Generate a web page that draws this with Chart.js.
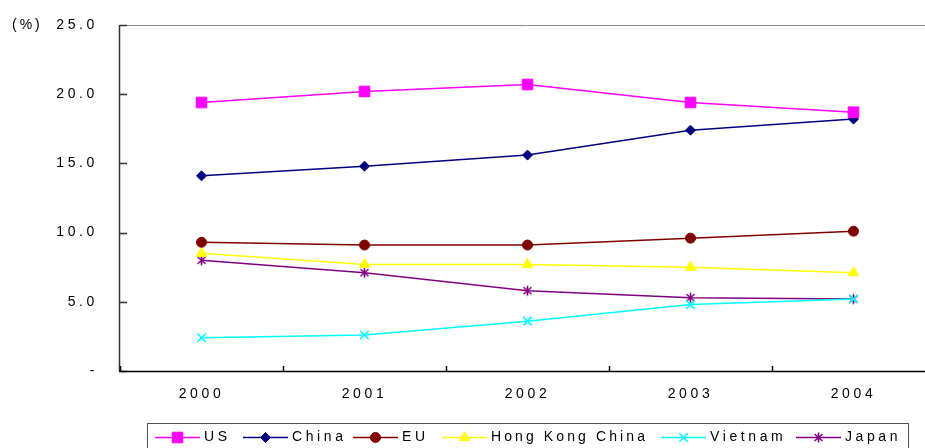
<!DOCTYPE html>
<html>
<head>
<meta charset="utf-8">
<script src="https://cdn.jsdelivr.net/npm/chart.js@4/dist/chart.umd.min.js"></script>
<style>
  html, body { margin: 0; padding: 0; background: #fff; overflow: hidden; }
  #wrap { width: 960px; height: 448px; }
</style>
</head>
<body>
<div id="wrap"><canvas id="c" width="960" height="448"></canvas></div>
<script>
// Share by partner (%), 2000-2004
const years    = ['2000', '2001', '2002', '2003', '2004'];
const us       = [19.4, 20.2, 20.7, 19.4, 18.7];
const china    = [14.1, 14.8, 15.6, 17.4, 18.2];
const eu       = [9.3, 9.1, 9.1, 9.6, 10.1];
const hongKong = [8.5, 7.7, 7.7, 7.5, 7.1];
const vietnam  = [2.4, 2.6, 3.6, 4.8, 5.2];
const japan    = [8.0, 7.1, 5.8, 5.3, 5.2];
const yTicks   = [0, 5, 10, 15, 20, 25];
const unitLabel = '(%)';

const FONT = '"Liberation Sans", Arial, sans-serif';

// asterisk marker: an X with a vertical stroke through it
function asteriskMarker(color) {
  const c = document.createElement('canvas');
  c.width = 13; c.height = 13;
  const g = c.getContext('2d');
  g.strokeStyle = color;
  g.lineWidth = 1.6;
  g.beginPath();
  g.moveTo(2.5, 3); g.lineTo(10.5, 10);
  g.moveTo(10.5, 3); g.lineTo(2.5, 10);
  g.moveTo(6.5, 1.5); g.lineTo(6.5, 11.5);
  g.stroke();
  return c;
}

function series(label, data, color, style, radius) {
  return {
    label, data,
    borderColor: color,
    backgroundColor: color,
    borderWidth: 1.5,
    tension: 0,
    pointStyle: style,
    pointRadius: radius,
    pointBackgroundColor: color,
    pointBorderColor: color,
    pointBorderWidth: style === 'crossRot' ? 1.6 : 1,
  };
}

const datasets = [
  series('US', us, '#FF00FF', 'rect', 7.5),
  series('China', china, '#000080', 'rectRot', 5),
  series('EU', eu, '#800000', 'circle', 5),
  series('Hong Kong China', hongKong, '#FFFF00', 'triangle', 6),
  series('Vietnam', vietnam, '#00FFFF', 'crossRot', 6),
  series('Japan', japan, '#800080', asteriskMarker('#800080'), 6),
];

// axis lines with inward tick marks, plus the unit label
const framePlugin = {
  id: 'frame',
  beforeDraw(chart) {
    chart.ctx.letterSpacing = '3.6px';
  },
  beforeDatasetsDraw(chart) {
    const { ctx, chartArea: a, scales } = chart;
    ctx.save();
    // top border
    ctx.strokeStyle = '#8a8a8a';
    ctx.lineWidth = 1;
    ctx.beginPath();
    ctx.moveTo(a.left, a.top + 0.5); ctx.lineTo(a.right, a.top + 0.5);
    ctx.stroke();
    // y axis and its ticks
    ctx.strokeStyle = '#333';
    ctx.lineWidth = 1.5;
    ctx.beginPath();
    ctx.moveTo(a.left - 0.5, a.top); ctx.lineTo(a.left - 0.5, a.bottom);
    yTicks.forEach(v => {
      const y = Math.round(scales.y.getPixelForValue(v)) + 0.5;
      ctx.moveTo(a.left, y); ctx.lineTo(a.left + 7, y);
    });
    ctx.stroke();
    // x axis and category boundary ticks
    ctx.strokeStyle = '#000';
    ctx.beginPath();
    ctx.moveTo(a.left - 1, a.bottom + 0.5); ctx.lineTo(a.right, a.bottom + 0.5);
    const n = years.length;
    for (let i = 0; i <= n; i++) {
      const x = Math.round(a.left + (a.right - a.left) * i / n) + 0.5;
      ctx.moveTo(x, a.bottom); ctx.lineTo(x, a.bottom - 5);
    }
    ctx.stroke();
    // unit label
    ctx.fillStyle = '#000';
    ctx.font = '14px ' + FONT;
    ctx.letterSpacing = '3px';
    ctx.textAlign = 'left';
    ctx.textBaseline = 'middle';
    ctx.fillText(unitLabel, 12, a.top);
    ctx.restore();
  }
};

// boxed legend: line segment with marker, then the series name
const legendPlugin = {
  id: 'boxLegend',
  afterDraw(chart) {
    const ctx = chart.ctx;
    const slots = [155, 243, 353, 442, 661, 796];
    const cy = 437;
    ctx.save();
    ctx.strokeStyle = '#555';
    ctx.lineWidth = 1;
    ctx.strokeRect(147.5, 423.5, 761, 40);
    chart.data.datasets.forEach((ds, i) => {
      const x0 = slots[i];
      ctx.strokeStyle = ds.borderColor;
      ctx.fillStyle = ds.borderColor;
      ctx.lineWidth = 1.5;
      ctx.beginPath();
      ctx.moveTo(x0, cy + 0.5); ctx.lineTo(x0 + 45, cy + 0.5);
      ctx.stroke();
      ctx.lineWidth = ds.pointBorderWidth;
      Chart.helpers.drawPoint(ctx, {
        pointStyle: ds.pointStyle, radius: ds.pointRadius,
        rotation: 0, borderWidth: ds.pointBorderWidth
      }, x0 + 22.5, cy + 0.5);
      ctx.fillStyle = '#000';
      ctx.font = '14px ' + FONT;
      ctx.letterSpacing = ds.label.includes(' ') ? '3.1px' : '3.6px';
      ctx.textAlign = 'left';
      ctx.textBaseline = 'middle';
      ctx.fillText(ds.label, x0 + 49, cy);
    });
    ctx.restore();
  }
};

new Chart(document.getElementById('c'), {
  type: 'line',
  data: { labels: years, datasets },
  options: {
    responsive: false,
    animation: false,
    events: [],
    layout: { padding: { top: 25, right: 25, bottom: 0, left: 0 } },
    plugins: { legend: { display: false }, tooltip: { enabled: false } },
    scales: {
      x: {
        offset: true,
        grid: { display: false, drawTicks: false },
        border: { display: false },
        ticks: { color: '#000', font: { family: FONT, size: 14 }, padding: 15, maxRotation: 0 },
        afterFit(s) { s.height = 77; }
      },
      y: {
        min: 0, max: 25,
        // invisible tick marks keep the labels clear of the axis line
        grid: { display: true, drawOnChartArea: false, drawTicks: true, tickLength: 22, tickColor: 'rgba(0,0,0,0)' },
        border: { display: false },
        afterBuildTicks(s) { s.ticks = yTicks.map(v => ({ value: v })); },
        ticks: {
          color: '#000', font: { family: FONT, size: 14 }, padding: 0,
          callback: v => v === 0 ? '-' : v.toFixed(1)
        },
        afterFit(s) { s.width = 120; }
      }
    }
  },
  plugins: [framePlugin, legendPlugin]
});
</script>
</body>
</html>
